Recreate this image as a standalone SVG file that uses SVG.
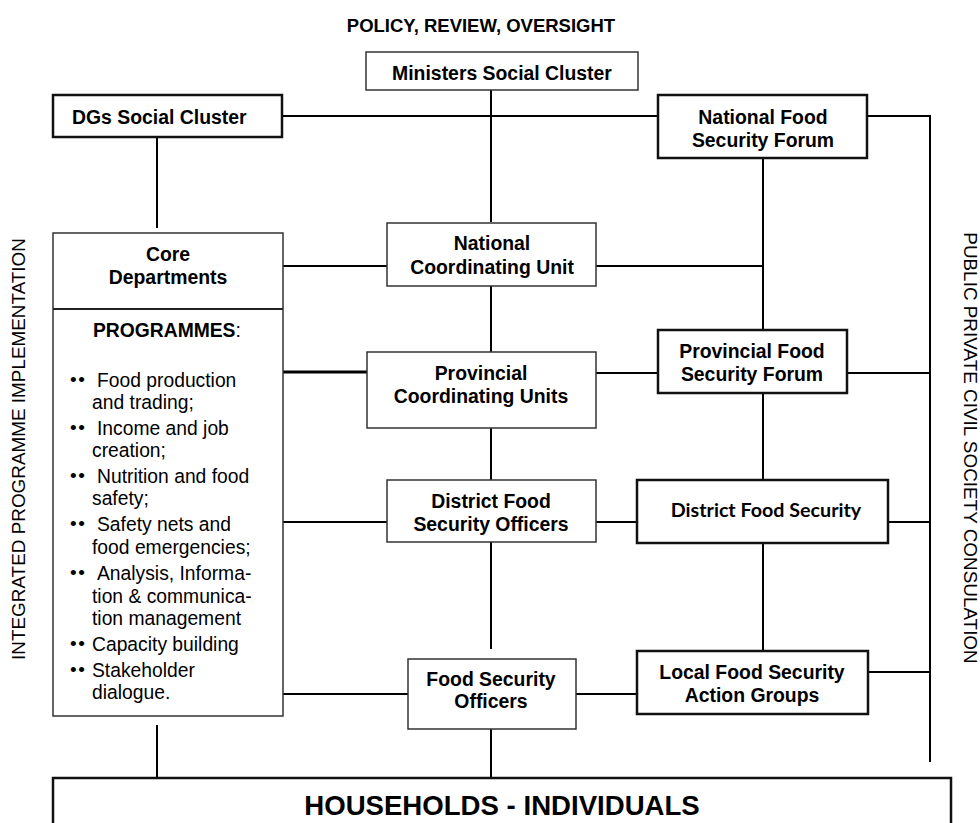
<svg xmlns="http://www.w3.org/2000/svg" width="980" height="823" viewBox="0 0 980 823">
<style>
.thin{fill:#fff;stroke:#333;stroke-width:1.5}
.thick{fill:#fff;stroke:#111;stroke-width:2.5}
.lbl{font-family:"Liberation Sans",Arial,sans-serif;font-weight:bold;font-size:19.4px;fill:#000;text-anchor:middle}
.reg{font-family:"Liberation Sans",Arial,sans-serif;font-size:19.3px;fill:#000}
.bul{font-family:"Liberation Sans",Arial,sans-serif;font-size:19px;fill:#000;letter-spacing:1.5px}
.side{font-family:"Liberation Sans",Arial,sans-serif;font-size:18.9px;fill:#000;text-anchor:middle}
#connectors path{fill:none;stroke:#000;stroke-width:2}
</style>
<rect width="980" height="823" fill="#fff"/>
<text x="481" y="32" class="lbl" style="font-size:18.5px">POLICY, REVIEW, OVERSIGHT</text>
<text class="side" transform="translate(25,449) rotate(-90)">INTEGRATED PROGRAMME IMPLEMENTATION</text>
<text class="side" transform="translate(964,448) rotate(90)">PUBLIC PRIVATE CIVIL SOCIETY CONSULATION</text>
<g id="connectors">
<path d="M283,116H658"/>
<path d="M491,90V222"/>
<path d="M867,116H930V762"/>
<path d="M157,137V228"/>
<path d="M283,266H387"/>
<path d="M596,266H763"/>
<path d="M763,158V330"/>
<path d="M491,286V352"/>
<path d="M283,372H367" style="stroke-width:3"/>
<path d="M596,373H658"/>
<path d="M847,373H930"/>
<path d="M491,428V480"/>
<path d="M283,522H387"/>
<path d="M596,522H637"/>
<path d="M888,522H930"/>
<path d="M763,393V480"/>
<path d="M763,543V651"/>
<path d="M868,672H930"/>
<path d="M576,694H637"/>
<path d="M283,694H408"/>
<path d="M491,542V649"/>
<path d="M491,729V778"/>
<path d="M157,725V778"/>
</g>
<g id="ministers">
<rect class="thin" x="366" y="52" width="272" height="38"/>
<text class="lbl" x="502" y="80">Ministers Social Cluster</text>
</g>
<g id="dgs">
<rect class="thick" x="53" y="95" width="229" height="42"/>
<text class="lbl" x="72" y="124" style="text-anchor:start">DGs Social Cluster</text>
</g>
<g id="nfsf">
<rect class="thick" x="658" y="95" width="209" height="63"/>
<text class="lbl" x="763" y="124">National Food</text>
<text class="lbl" x="763" y="147">Security Forum</text>
</g>
<g id="core">
<rect class="thin" x="53" y="233" width="230" height="483"/>
<path d="M53,309H283" stroke="#222" stroke-width="2"/>
<text class="lbl" x="168" y="261">Core</text>
<text class="lbl" x="168" y="284">Departments</text>
<text class="reg" x="93" y="337"><tspan font-weight="bold">PROGRAMMES</tspan>:</text>
<g class="bul">
<text x="70" y="386">••</text>
<text x="70" y="434">••</text>
<text x="70" y="482">••</text>
<text x="70" y="530">••</text>
<text x="70" y="579">••</text>
<text x="70" y="650">••</text>
<text x="70" y="676">••</text>
</g>
<g class="reg">
<text x="97" y="387">Food production</text>
<text x="92" y="409">and trading;</text>
<text x="97" y="435">Income and job</text>
<text x="92" y="457">creation;</text>
<text x="97" y="483">Nutrition and food</text>
<text x="92" y="505">safety;</text>
<text x="97" y="531">Safety nets and</text>
<text x="92" y="554">food emergencies;</text>
<text x="97" y="580">Analysis, Informa-</text>
<text x="92" y="603">tion &amp; communica-</text>
<text x="92" y="625">tion management</text>
<text x="92" y="651">Capacity building</text>
<text x="92" y="677">Stakeholder</text>
<text x="92" y="699">dialogue.</text>
</g>
</g>
<g id="ncu">
<rect class="thin" x="387" y="223" width="209" height="63"/>
<text class="lbl" x="492" y="250">National</text>
<text class="lbl" x="492" y="274">Coordinating Unit</text>
</g>
<g id="pcu">
<rect class="thin" x="367" y="352" width="229" height="76"/>
<text class="lbl" x="481" y="380">Provincial</text>
<text class="lbl" x="481" y="403">Coordinating Units</text>
</g>
<g id="pfsf">
<rect class="thick" x="658" y="330" width="189" height="63"/>
<text class="lbl" x="752" y="358">Provincial Food</text>
<text class="lbl" x="752" y="381">Security Forum</text>
</g>
<g id="dfso">
<rect class="thin" x="387" y="480" width="209" height="62"/>
<text class="lbl" x="491" y="508">District Food</text>
<text class="lbl" x="491" y="531">Security Officers</text>
</g>
<g id="dfs">
<rect class="thick" x="637" y="480" width="251" height="63"/>
<text x="766" y="517" style="font-family:Lato,'Open Sans',sans-serif;font-weight:bold;font-size:19.7px;text-anchor:middle">District Food Security</text>
</g>
<g id="lfsag">
<rect class="thick" x="637" y="651" width="231" height="63"/>
<text class="lbl" x="752" y="679">Local Food Security</text>
<text class="lbl" x="752" y="702">Action Groups</text>
</g>
<g id="fso">
<rect class="thin" x="408" y="659" width="168" height="70"/>
<text class="lbl" x="491" y="686">Food Security</text>
<text class="lbl" x="491" y="708">Officers</text>
</g>
<g id="households">
<rect class="thick" x="53" y="778" width="898" height="60"/>
<text class="lbl" x="502" y="815" style="font-size:27.6px">HOUSEHOLDS - INDIVIDUALS</text>
</g>
</svg>
